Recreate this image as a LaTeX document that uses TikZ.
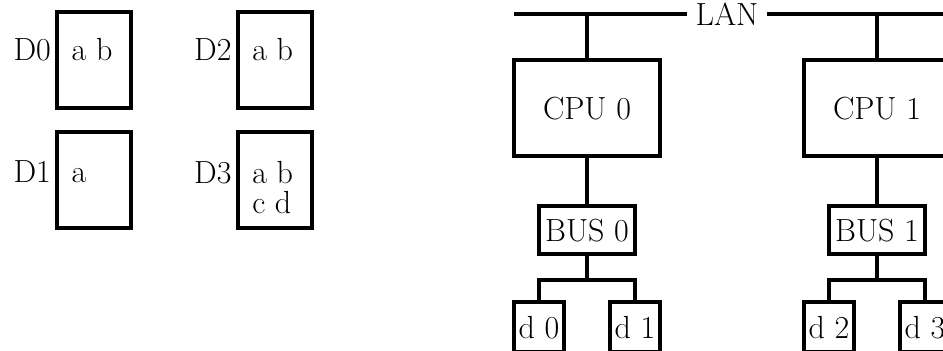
\documentclass[tikz,border=0pt]{standalone}
\usepackage{fontspec}
\usepackage{tikz}
\usetikzlibrary{matrix, positioning}
\tikzstyle{wire} = [line width=2pt]
\tikzstyle{hostbox} = [draw, line width=2pt, minimum width=73pt, minimum height=48pt]
\tikzstyle{busbox} = [draw, line width=2pt, inner sep=0pt, minimum width=48pt, minimum height=24pt]
\tikzstyle{diskbox} = [draw, line width=2pt, inner sep=0pt, minimum size=25pt]
\tikzstyle{filelist} = [anchor=base west, align=left, inner sep=0pt, font=\fontsize{16}{15}\selectfont]
\tikzstyle{dlabel} = [anchor=base east, inner sep=0pt, xshift=-2pt]

\begin{document}
\begin{tikzpicture}[x=0.5pt, y=-0.5pt, font=\fontsize{16}{19}\selectfont]
        \useasboundingbox (0,0) rectangle (943,351);
        \clip (0,0) rectangle (943,351);
        % Volumes and their files
        \matrix (m1) [matrix of nodes, nodes in empty cells, nodes={draw, line width=2pt, minimum width=37pt, minimum height=48pt}, column sep=51.3pt, row sep=10pt] at (184.6,120.4) {
            & \\
            & \\
        };
        \node[filelist] (f0) at ([shift={(16,50)}]m1-1-1.north west) {a b};
        \node[filelist] (f1) at ([shift={(16,52)}]m1-2-1.north west) {a};
        \node[filelist] (f2) at ([shift={(16,50)}]m1-1-2.north west) {a b};
        \node[filelist] (f3) at ([shift={(16,83)}]m1-2-2.north west) {a b\\c d};
        \node[dlabel] (v0) at (m1-1-1.west |- f0.base) {D0};
        \node[dlabel] (v1) at (m1-2-1.west |- f1.base) {D1};
        \node[dlabel] (v2) at (m1-1-2.west |- f2.base) {D2};
        \node[dlabel, yshift=15pt] (v3) at (m1-2-2.west |- f3.base) {D3};

        % Hosts on the LAN
        \node[hostbox] (cpu0) at (587,108.5) {CPU 0};
        \node[hostbox, right=70pt of cpu0] (cpu1) {CPU 1};
        \node[busbox, below=23pt of cpu0] (bus0) {BUS 0};
        \node[busbox, below=23pt of cpu1] (bus1) {BUS 1};
        \node[diskbox, below=22pt of bus0, xshift=-24pt] (d0) {d 0};
        \node[diskbox, below=22pt of bus0, xshift=24pt] (d1) {d 1};
        \node[diskbox, below=22pt of bus1, xshift=-24pt] (d2) {d 2};
        \node[diskbox, below=22pt of bus1, xshift=24pt] (d3) {d 3};

        \coordinate (lanW) at (514,14);
        \coordinate (lanE) at (960,14);
        \node[inner xsep=4pt] (lan) at (727,14) {LAN};
        \draw[wire] (lanW) -- (lan) -- (lanE);
        \draw[wire] (cpu0) -- (cpu0 |- lanW);
        \draw[wire] (cpu1) -- (cpu1 |- lanW);
        \draw[wire] (cpu0) -- (bus0);
        \draw[wire] (cpu1) -- (bus1);

        % Disk forks
        \coordinate (fork0) at ([yshift=-12pt]bus0.south);
        \coordinate (fork1) at ([yshift=-12pt]bus1.south);
        \draw[wire] (bus0) -- (fork0);
        \draw[wire] (bus1) -- (fork1);
        \draw[wire] (d0) |- (fork0) -| (d1);
        \draw[wire] (d2) |- (fork1) -| (d3);
\end{tikzpicture}
\end{document}
